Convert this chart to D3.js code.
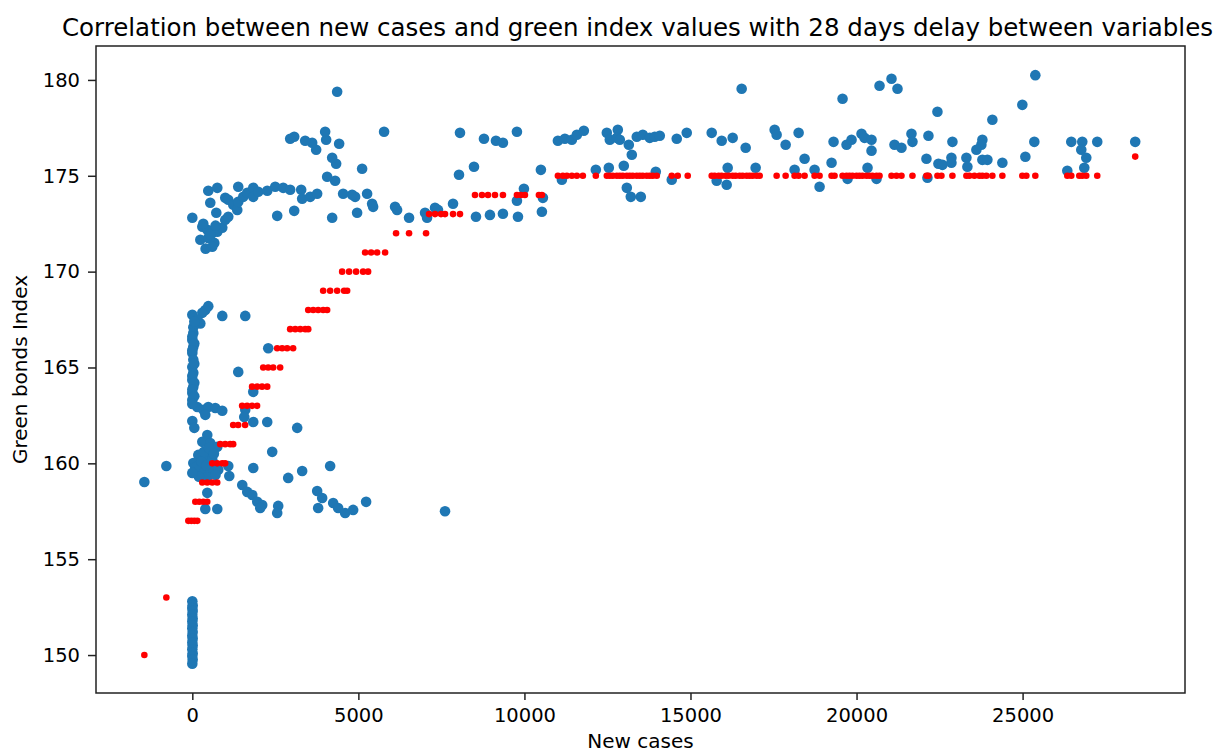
<!DOCTYPE html>
<html>
<head>
<meta charset="utf-8">
<script src="https://cdn.jsdelivr.net/npm/d3@7"></script>
<style>
  body { margin: 0; background: #fff; }
  text { font-family: "DejaVu Sans", sans-serif; fill: #000; }
</style>
</head>
<body>
<svg id="chart" width="1220" height="754"></svg>
<script>
// ---- data ----
const titleText = "Correlation between new cases and green index values with 28 days delay between variables";
const xLabel = "New cases";
const yLabel = "Green bonds Index";
const xTicks = [0, 5000, 10000, 15000, 20000, 25000];
const yTicks = [150, 155, 160, 165, 170, 175, 180];

// blue: observed green index vs new cases
const blueCases = [
  0,10,0,10,0,10,0,10,0,10,0,10,0,10,0,10,0,10,0,
  481,391,301,0,902,1594,150,241,30,30,0,30,0,30,0,30,0,30,0,0,150,331,481,692,902,391,
  60,0,60,0,60,0,60,0,60,0,
  2286,1383,1835,1594,1564,1835,2256,3158,0,60,2406,-782,-1444,451,301,541,752,
  180,391,30,241,481,632,150,331,541,782,1083,1113,451,451,391,752,1835,2887,3308,4150,
  90,270,420,600,700,200,350,500,650,0,
  1504,1654,1805,1955,2105,2045,2586,2556,3759,3910,3789,4241,4391,4602,4842,5233,7609,
  0,301,451,602,752,241,481,662,541,481,541,722,752,902,992,1083,992,1083,1233,1353,1383,1383,1534,1654,1835,1835,1985,2256,2496,2737,2947,3278,3308,3549,3759,2556,3068,4211,4962,5414,5444,5263,4902,4812,4541,4301,4060,5113,4331,4211,3729,3609,3398,3068,2947,4421,4030,4000,4361,5774,
  331,600,400,700,
  6105,6165,6526,7008,7068,7308,7398,7850,8541,8962,9353,9805,9774,9985,10556,10526,10496,8060,8030,8481,8782,9143,9353,9774,
  11008,11218,11429,11579,11789,11128,12150,12541,12481,12571,12812,12782,12872,13143,13233,12992,13083,13203,13504,13383,13564,13774,13925,14075,13955,14436,14586,14887,
  16541,19579,20692,21053,21233,15639,15940,16271,16662,17534,17594,17865,18256,18436,18135,18737,18887,19248,19308,19699,19850,20150,20241,20451,20451,20331,19729,20602,21143,21353,21654,21684,22165,22105,22135,22436,16120,15789,16090,16962,22466,
  24992,24090,22887,23789,23759,23609,25383,25353,26466,26797,27248,28391,26767,26917,26857,26346,25083,22586,22857,22857,23308,23338,23789,23940,24391
];
const blueIndex = [
  152.8,152.6,152.45,152.3,152.1,151.9,151.75,151.55,151.4,151.2,151.0,150.85,150.65,150.5,150.3,150.1,149.95,149.75,149.55,
  168.2,168.0,167.85,167.75,167.69,167.69,167.5,167.3,167.1,166.8,166.44,166.08,165.76,165.4,165.03,164.72,164.35,163.99,163.67,163.31,162.94,162.79,162.94,162.89,162.74,162.53,
  167.4,166.6,166.25,165.9,165.2,164.55,164.2,163.85,163.5,163.1,
  166.0,164.77,163.73,162.79,162.42,162.16,162.16,161.85,162.21,161.85,160.6,159.86,159.03,161.48,161.12,161.06,160.86,
  160.44,160.33,160.02,159.92,160.18,159.81,159.66,159.55,159.5,159.66,159.86,159.34,159.29,158.46,157.62,157.62,159.76,159.24,159.6,159.86,
  159.8,160.1,159.9,160.2,159.4,159.3,160.6,160.8,160.5,159.5,
  158.87,158.51,158.35,157.99,157.83,157.67,157.78,157.41,158.56,158.19,157.67,157.93,157.67,157.41,157.57,157.99,157.5,
  172.81,172.34,172.18,172.02,172.08,171.66,171.76,171.5,171.92,174.22,173.59,173.07,174.37,172.29,172.7,172.86,173.85,173.75,173.49,173.22,173.64,174.43,173.9,174.11,173.9,174.37,174.17,174.22,174.43,174.37,174.27,174.27,173.8,173.9,174.06,172.91,173.17,172.81,173.07,173.54,173.38,174.06,173.9,174.01,174.06,174.74,174.95,175.37,175.63,175.94,176.36,176.72,176.83,177.04,176.93,176.67,176.88,177.3,179.38,177.3,
  172.5,171.3,171.2,172.4,
  173.38,173.22,172.81,173.07,172.81,173.33,173.22,173.54,172.86,172.96,173.02,172.86,173.7,174.32,173.85,173.12,175.31,177.24,175.05,175.47,176.93,176.83,176.72,177.3,
  176.83,176.93,176.88,177.14,177.35,174.79,175.31,175.42,177.24,176.88,177.4,176.98,176.88,176.62,176.1,175.52,174.37,173.9,173.9,177.04,177.14,176.98,177.04,177.09,175.21,174.79,176.93,177.24,
  179.54,179.02,179.7,180.06,179.54,177.24,176.83,176.98,176.46,177.4,177.14,176.62,177.24,175.89,175.31,175.31,174.43,175.68,176.77,176.62,176.88,177.19,176.98,176.88,176.31,175.42,174.84,174.84,176.62,176.46,177.19,176.77,177.09,175.89,174.9,178.34,175.42,174.74,174.53,175.42,175.63,
  178.7,177.92,176.77,176.88,176.62,176.36,180.25,176.77,176.77,176.77,176.77,176.77,176.36,175.94,175.42,175.26,175.99,175.57,175.94,175.68,175.94,175.47,175.83,175.83,175.68
];

// red: stepped index vs new cases
const redCases = [
  -1444,-782,
  -120,-30,60,150,
  90,210,330,450,
  300,450,600,750,
  600,750,900,990,
  840,990,1140,1230,
  1230,1380,1590,
  1500,1650,1800,1950,
  1800,1950,2100,2255,
  2135,2285,2435,2645,
  2555,2705,2855,3035,
  2947,3100,3250,3400,3490,
  3490,3640,3790,3940,4060,
  3940,4150,4361,4571,4662,
  4511,4721,4932,5143,5293,
  5203,5384,5564,5805,
  6135,6526,7038,
  7128,7308,7489,7609,7850,8060,
  8511,8722,8902,9113,9353,9774,9895,10015,10436,10526,
  11008,11158,11278,11429,11579,11759,12150,12481,12571,12662,12782,12872,12962,13083,13173,13263,13383,13474,13564,13684,13774,13865,13985,14436,14616,14917,
  15639,15729,15850,15940,16060,16150,16271,16361,16481,16571,16692,16782,16872,16992,17083,17594,17865,18135,18256,18436,18737,18887,19248,19338,19579,19699,19789,19880,20000,20090,20180,20301,20391,20481,20602,20692,21053,21203,21353,21684,22105,22165,22436,
  22556,22887,23308,23398,23549,23699,23789,23910,24090,24391,24992,25113,25383,26346,26466,26707,26797,26917,27248,
  28391
];
const redIndex = [
  150,153,
  157,157,157,157,
  158,158,158,158,
  159,159,159,159,
  160,160,160,160,
  161,161,161,161,
  162,162,162,
  163,163,163,163,
  164,164,164,164,
  165,165,165,165,
  166,166,166,166,
  167,167,167,167,167,
  168,168,168,168,168,
  169,169,169,169,169,
  170,170,170,170,170,
  171,171,171,171,
  172,172,172,
  173,173,173,173,173,173,
  174,174,174,174,174,174,174,174,174,174,
  175,175,175,175,175,175,175,175,175,175,175,175,175,175,175,175,175,175,175,175,175,175,175,175,175,175,
  175,175,175,175,175,175,175,175,175,175,175,175,175,175,175,175,175,175,175,175,175,175,175,175,175,175,175,175,175,175,175,175,175,175,175,175,175,175,175,175,175,175,175,
  175,175,175,175,175,175,175,175,175,175,175,175,175,175,175,175,175,175,175,
  176
];

// ---- layout ----
const W = 1220, H = 754;
const m = { left: 96, right: 35, top: 46, bottom: 61 };
const pw = W - m.left - m.right, ph = H - m.top - m.bottom;

const svg = d3.select("#chart");
const g = svg.append("g").attr("transform", `translate(${m.left},${m.top})`);

const x = d3.scaleLinear().domain([-2900, 29890]).range([0, pw]);
const y = d3.scaleLinear().domain([148.02, 181.77]).range([ph, 0]);

const blue = blueCases.map((c, i) => ({ c, v: blueIndex[i] }));
const red = redCases.map((c, i) => ({ c, v: redIndex[i] }));

g.append("g").selectAll("circle").data(blue).join("circle")
  .attr("cx", d => x(d.c)).attr("cy", d => y(d.v)).attr("r", 5.3)
  .attr("fill", "#1f77b4");

g.append("g").selectAll("circle").data(red).join("circle")
  .attr("cx", d => x(d.c)).attr("cy", d => y(d.v)).attr("r", 3.3)
  .attr("fill", "#ff0000");

// axes
const xAxis = g.append("g").attr("transform", `translate(0,${ph})`)
  .call(d3.axisBottom(x).tickValues(xTicks).tickFormat(d3.format("d")).tickSize(7).tickPadding(8).tickSizeOuter(0));
const yAxis = g.append("g")
  .call(d3.axisLeft(y).tickValues(yTicks).tickFormat(d3.format("d")).tickSize(8).tickPadding(8).tickSizeOuter(0));
[xAxis, yAxis].forEach(a => {
  a.select(".domain").remove();
  a.selectAll("line").attr("stroke", "#222").attr("stroke-width", 1.5);
  a.selectAll("text").attr("font-size", 19.5).attr("font-family", "DejaVu Sans").attr("fill", "#222");
});

// frame
g.append("rect").attr("x", 0).attr("y", 0).attr("width", pw).attr("height", ph)
  .attr("fill", "none").attr("stroke", "#222").attr("stroke-width", 1.5);

// labels
svg.append("text").attr("x", m.left + pw / 2 - 3).attr("y", 36)
  .attr("text-anchor", "middle").attr("font-size", 24.5).text(titleText);
svg.append("text").attr("x", m.left + pw / 2).attr("y", 748)
  .attr("text-anchor", "middle").attr("font-size", 20).attr("fill", "#222").text(xLabel);
svg.append("text").attr("transform", `translate(27,${m.top + ph / 2}) rotate(-90)`)
  .attr("text-anchor", "middle").attr("font-size", 20).attr("fill", "#222").text(yLabel);
</script>
</body>
</html>
